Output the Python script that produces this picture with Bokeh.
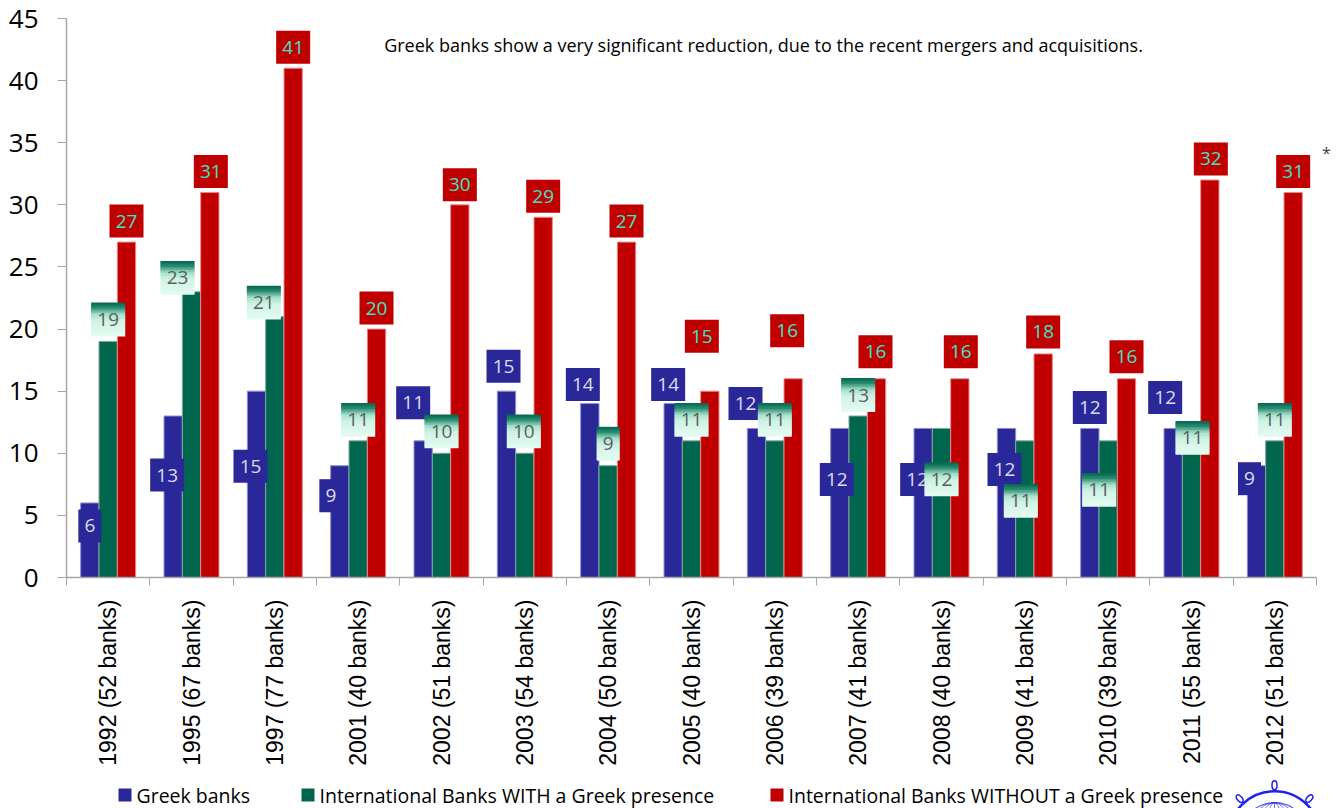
import math
from bokeh.plotting import figure
from bokeh.layouts import column
from bokeh.models import FixedTicker, Range1d
from bokeh.core.properties import value
from bokeh.embed import file_html
from bokeh.resources import INLINE

# --- data -------------------------------------------------------------------
categories = ["1992 (52 banks)", "1995 (67 banks)", "1997 (77 banks)",
              "2001 (40 banks)", "2002 (51 banks)", "2003 (54 banks)",
              "2004 (50 banks)", "2005 (40 banks)", "2006 (39 banks)",
              "2007 (41 banks)", "2008 (40 banks)", "2009 (41 banks)",
              "2010 (39 banks)", "2011 (55 banks)", "2012 (51 banks)"]
greek_banks = [6, 13, 15, 9, 11, 15, 14, 14, 12, 12, 12, 12, 12, 12, 9]
intl_with = [19, 23, 21, 11, 10, 10, 9, 11, 11, 13, 12, 11, 11, 11, 11]
intl_without = [27, 31, 41, 20, 30, 29, 27, 15, 16, 16, 16, 18, 16, 32, 31]
y_ticks = [0, 5, 10, 15, 20, 25, 30, 35, 40, 45]

series_names = ["Greek banks",
                "International Banks WITH a Greek presence",
                "International Banks WITHOUT a Greek presence"]
subtitle = ("Greek banks show a very significant reduction, "
            "due to the recent mergers and acquisitions.")

# --- label nudges (pixels, relative to the top centre of each bar) -----------
greek_dx = [0, -6, -6, -9, -10, -3, -7, -5, -11, -3, -6, -2, 0, -8, -7]
greek_dy = [-23, -59, -75, -30, 38, 25, 19, 19, 25, -51, -51, -41, 21, 31, -13]
with_dx = [0, -14, -11, 0, 0, -1, 0, 0, 0, 0, 0, -4, -9, 1, 0]
with_dy = [22, 14, 14, 21, 22, 22, 22, 21, 21, 21, -51, -60, -49, 3, 21]
without_dx = [0, 1, 0, 0, 0, 0, 0, -8, -6, -1, 1, 0, 0, 1, 0]
without_dy = [21, 21, 21, 21, 20, 21, 21, 55, 48, 27, 27, 22, 22, 21, 21]

# --- geometry / style -------------------------------------------------------
W = 1339
H_MAIN, H_LEG = 778, 30
LEFT, TOP = 66, 18
n = len(categories)
px_x = 1250 / n             # pixels per category
px_y = 559 / 45.0           # pixels per unit
BOTTOM = H_MAIN - TOP - 559
x_end = n + (W - LEFT - 1250) / px_x   # frame runs to the right edge

BLUE = "#2a2899"
GREEN = "#00664e"
RED = "#c00000"
BAR_W = 0.22
offsets = [-BAR_W, 0.0, BAR_W]
FONT = "Open Sans"

p = figure(width=W, height=H_MAIN, output_backend="svg", toolbar_location=None,
           x_range=Range1d(0, x_end), y_range=Range1d(0, 45),
           min_border_left=LEFT, min_border_right=0,
           min_border_top=TOP, min_border_bottom=BOTTOM)
p.outline_line_color = None
p.xgrid.grid_line_color = None
p.ygrid.grid_line_color = None
p.background_fill_color = "white"
p.border_fill_color = "white"

centers = [i + 0.5 for i in range(n)]

renderers = []
for vals, col, edge, off in zip([greek_banks, intl_with, intl_without],
                                [BLUE, GREEN, RED],
                                ["#8f8fd0", "#7fa898", "#e88a8a"],
                                offsets):
    r = p.vbar(x=[c + off for c in centers], top=vals, width=BAR_W,
               fill_color=col, line_color=edge, line_width=1)
    renderers.append(r)


def label_pos(vals, off, dxs, dys):
    xs = [c + off + dx / px_x for c, dx in zip(centers, dxs)]
    ys = [v + dy / px_y for v, dy in zip(vals, dys)]
    return xs, ys


def box_width(v):
    return 11 * len(str(v)) + 12


BOX_H = 33
LABEL_FONT = value(FONT)
LABEL_SIZE = "19px"

# Greek banks labels: solid blue boxes
gx, gy = label_pos(greek_banks, offsets[0], greek_dx, greek_dy)
p.rect(x=gx, y=gy, width=[box_width(v) for v in greek_banks], height=BOX_H,
       width_units="screen", height_units="screen",
       fill_color=BLUE, line_color=None)
p.text(x=gx, y=gy, text=[str(v) for v in greek_banks], text_font=LABEL_FONT,
       text_font_size=LABEL_SIZE, text_color="#dedcf0",
       text_align="center", text_baseline="middle")

# International WITH labels: vertical dark-to-mint gradient boxes
wx, wy = label_pos(intl_with, offsets[1], with_dx, with_dy)
stops = [(0.0, (0x00, 0x66, 0x4e)), (0.16, (0x2a, 0x8a, 0x70)),
         (0.36, (0xa6, 0xe2, 0xcc)), (0.55, (0xcf, 0xf3, 0xe5)),
         (1.0, (0xe4, 0xfb, 0xf2))]


def grad(t):
    for (t0, c0), (t1, c1) in zip(stops[:-1], stops[1:]):
        if t <= t1:
            f = (t - t0) / (t1 - t0)
            return "#%02x%02x%02x" % tuple(int(round(a + (b - a) * f))
                                          for a, b in zip(c0, c1))
    return "#%02x%02x%02x" % stops[-1][1]


STRIPS = 22
strip_h = BOX_H / STRIPS
wwidths = [box_width(v) for v in intl_with]
for k in range(STRIPS):
    shift = (BOX_H / 2 - (k + 0.5) * strip_h) / px_y
    p.rect(x=wx, y=[y + shift for y in wy], width=wwidths,
           height=strip_h + 0.8, width_units="screen", height_units="screen",
           fill_color=grad((k + 0.5) / STRIPS), line_color=None)
p.text(x=wx, y=wy, text=[str(v) for v in intl_with], text_font=LABEL_FONT,
       text_font_size=LABEL_SIZE, text_color="#5e5e5e",
       text_align="center", text_baseline="middle")

# International WITHOUT labels: red boxes with aquamarine numbers
rx, ry = label_pos(intl_without, offsets[2], without_dx, without_dy)
p.rect(x=rx, y=ry, width=[box_width(v) for v in intl_without], height=BOX_H,
       width_units="screen", height_units="screen",
       fill_color=RED, line_color=None)
p.text(x=rx, y=ry, text=[str(v) for v in intl_without], text_font=LABEL_FONT,
       text_font_size=LABEL_SIZE, text_color="#40e2c4",
       text_align="center", text_baseline="middle")

# Note across the top and the footnote marker beside the last group
p.text(x=[(763 - LEFT) / px_x], y=[(559 + TOP - 44) / px_y], text=[subtitle],
       text_font=value(FONT), text_font_size="18px", text_color="black",
       text_align="center", text_baseline="middle")
p.text(x=[n + 10 / px_x], y=[(559 + TOP - 152) / px_y], text=["*"],
       text_font=value(FONT), text_font_size="16px", text_color="#404040",
       text_align="center", text_baseline="middle")

# --- axes -------------------------------------------------------------------
AXIS_GREY = "#a6a6a6"
p.yaxis.ticker = FixedTicker(ticks=y_ticks)
p.yaxis.axis_line_color = AXIS_GREY
p.yaxis.axis_line_width = 1.5
p.yaxis.major_tick_line_color = AXIS_GREY
p.yaxis.major_tick_in = 0
p.yaxis.major_tick_out = 9
p.yaxis.minor_tick_line_color = None
p.yaxis.major_label_standoff = 19
p.yaxis.major_label_text_font = FONT
p.yaxis.major_label_text_font_size = "26px"
p.yaxis.major_label_text_color = "black"

p.xaxis.bounds = (0, n)
p.xaxis.ticker = FixedTicker(ticks=centers, minor_ticks=list(range(n + 1)))
p.xaxis.major_label_overrides = {c: lab for c, lab in zip(centers, categories)}
p.xaxis.major_label_orientation = math.pi / 2
p.xaxis.axis_line_color = AXIS_GREY
p.xaxis.axis_line_width = 1.5
p.xaxis.major_tick_line_color = None
p.xaxis.major_tick_in = 0
p.xaxis.major_tick_out = 0
p.xaxis.minor_tick_line_color = AXIS_GREY
p.xaxis.minor_tick_in = 0
p.xaxis.minor_tick_out = 8
p.xaxis.major_label_standoff = 14
p.xaxis.major_label_text_font = "Liberation Sans"
p.xaxis.major_label_text_font_size = "23px"
p.xaxis.major_label_text_color = "black"

# --- legend strip and emblem ------------------------------------------------
# the column aligns this strip's frame with the chart frame (x from LEFT to W),
# so its x range is given in page pixels
leg = figure(width=W, height=H_LEG, output_backend="svg", toolbar_location=None,
             x_range=Range1d(LEFT, W), y_range=Range1d(0, H_LEG),
             x_axis_location=None, y_axis_location=None,
             min_border_left=LEFT, min_border_right=0,
             min_border_top=0, min_border_bottom=0)
leg.outline_line_color = None
leg.xgrid.grid_line_color = None
leg.ygrid.grid_line_color = None

sw_x = [124.5, 307.5, 776.5]
leg.rect(x=sw_x, y=[13.5] * 3, width=13, height=13,
         fill_color=[BLUE, GREEN, RED], line_color=None)
leg.text(x=[x + 11.5 for x in sw_x], y=[13.5] * 3, text=series_names,
         text_font=value(FONT), text_font_size="19.5px", text_color="black",
         text_align="left", text_baseline="middle")

# ship's-wheel emblem peeking in at the bottom-right corner
EC = "#2020f0"
cx, cy = 1274, -28.7
leg.circle(x=[cx], y=[cy], radius=46, fill_color=None, line_color=EC,
           line_width=2.5)
leg.circle(x=[cx], y=[cy], radius=34.5, fill_color=None, line_color=EC,
           line_width=1.2, line_alpha=0.7)
for ang in [90, 132, 48]:
    a = math.radians(ang)
    leg.ellipse(x=[cx + 52 * math.cos(a)], y=[cy + 52 * math.sin(a)],
                width=5, height=9, angle=a - math.pi / 2,
                fill_color="white", line_color=EC, line_width=1.5)
for frac in [0.25, 0.5, 0.75]:
    leg.ellipse(x=[cx], y=[cy], width=69 * frac, height=69,
                fill_color=None, line_color=EC, line_width=1, line_alpha=0.6)
leg.segment(x0=[cx], y0=[cy], x1=[cx], y1=[cy + 34.5], line_color=EC,
            line_width=1, line_alpha=0.6)

open("out.html", "w").write(file_html(column(p, leg, spacing=0), INLINE))
